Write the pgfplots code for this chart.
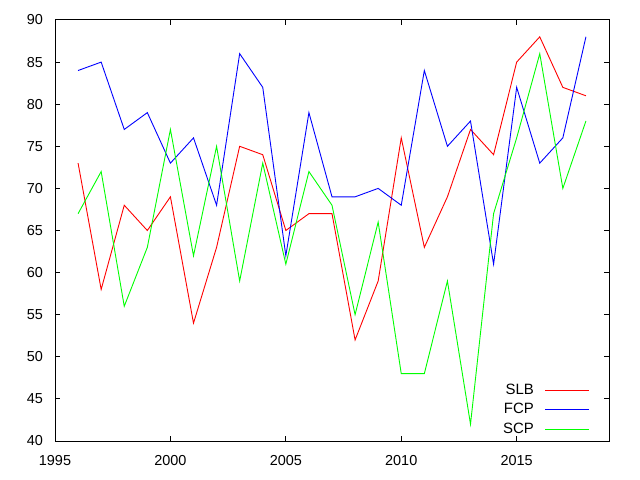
\documentclass[border=0pt]{standalone}
\usepackage{pgfplots}
\pgfplotsset{compat=1.18}
\usepackage{fontspec}
\setmainfont{Liberation Sans}
\begin{document}
\fontsize{14.5}{17}\selectfont
\begin{tikzpicture}
\begin{axis}[
  scale only axis, width=554bp, height=421bp,
  xmin=1995, xmax=2019, ymin=40, ymax=90,
  xtick={1995,2000,2005,2010,2015}, ytick={40,45,...,90},
  tick align=inside, major tick length=5.5bp,
  xtick pos=both, ytick pos=both,
  /pgf/number format/assume math mode=true,
  /pgf/number format/1000 sep={},
  xticklabel style={yshift=-9bp},
  yticklabel style={xshift=-7bp},
  axis line style={line width=1bp},
  every tick/.style={line width=1bp, black},
  tick label style={font=\fontsize{14.5}{17}\selectfont},
  legend style={anchor=south east, at={(axis description cs:0.971,0.003)}, draw=none, fill=none, font=\fontsize{15}{17}\selectfont, row sep=3bp},
  legend cell align=right,
  legend plot pos=right,
  legend image code/.code={\path (0bp,0bp); \draw[#1] (9bp,0bp) -- (53bp,0bp);},
]
\addplot[red, line width=0.9bp] coordinates {(1996,73)(1997,58)(1998,68)(1999,65)(2000,69)(2001,54)(2002,63)(2003,75)(2004,74)(2005,65)(2006,67)(2007,67)(2008,52)(2009,59)(2010,76)(2011,63)(2012,69)(2013,77)(2014,74)(2015,85)(2016,88)(2017,82)(2018,81)};
\addlegendentry{SLB}
\addplot[blue, line width=0.9bp] coordinates {(1996,84)(1997,85)(1998,77)(1999,79)(2000,73)(2001,76)(2002,68)(2003,86)(2004,82)(2005,62)(2006,79)(2007,69)(2008,69)(2009,70)(2010,68)(2011,84)(2012,75)(2013,78)(2014,61)(2015,82)(2016,73)(2017,76)(2018,88)};
\addlegendentry{FCP}
\addplot[green, line width=0.9bp] coordinates {(1996,67)(1997,72)(1998,56)(1999,63)(2000,77)(2001,62)(2002,75)(2003,59)(2004,73)(2005,61)(2006,72)(2007,68)(2008,55)(2009,66)(2010,48)(2011,48)(2012,59)(2013,42)(2014,67)(2015,76)(2016,86)(2017,70)(2018,78)};
\addlegendentry{SCP}
\end{axis}
\path[use as bounding box] (-55bp,-39bp) rectangle (585bp,441bp);
\end{tikzpicture}
\end{document}
